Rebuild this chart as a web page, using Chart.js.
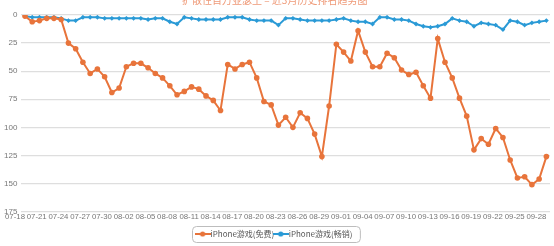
<!DOCTYPE html>
<html>
<head>
<meta charset="utf-8">
<script src="https://cdn.jsdelivr.net/npm/chart.js@4.4.1/dist/chart.umd.min.js"></script>
<style>
  html, body { margin: 0; padding: 0; background: #fff; overflow: hidden; }
  #wrap { position: relative; width: 554px; height: 246px; }
  #titulo {
    position: absolute; top: -6px; left: 182px; width: 180px;
    font: 10px "Noto Sans CJK SC", sans-serif; color: #ef9a78;
    white-space: nowrap; line-height: 12px;
  }
</style>
</head>
<body>
<div id="wrap">
  <canvas id="grafico" width="554" height="246"></canvas>
  <div id="titulo">扩散性百万亚瑟王 – 近3月历史排名趋势图</div>
</div>
<script>
// datas: 07-18 .. 09-28
const meses = [["07", 18, 31], ["08", 1, 31], ["09", 1, 28]];
const datas = [];
meses.forEach(([m, ini, fim]) => {
  for (let d = ini; d <= fim; d++) datas.push(m + "-" + String(d).padStart(2, "0"));
});

const nomeGratis = "iPhone游戏(免费)";
const nomeVendas = "iPhone游戏(畅销)";

const rankGratis = [
  1, 6, 5, 3, 3, 4, 25, 30, 42, 52, 48, 55, 69, 65, 46, 43, 43, 47, 52, 56,
  63, 71, 68, 64, 66, 72, 76, 85, 44, 48, 44, 42, 56, 77, 80, 98, 91, 100, 87, 92,
  106, 126, 81, 26, 33, 41, 14, 33, 46, 46, 34, 38, 49, 53, 51, 63, 74, 21, 42, 56,
  74, 90, 120, 110, 115, 101, 109, 129, 145, 144, 151, 146, 126
];
const rankVendas = [
  1, 2, 2, 2, 2, 3, 5, 5, 2, 2, 2, 3, 3, 3, 3, 3, 3, 4, 3, 3,
  6, 8, 2, 3, 4, 4, 4, 4, 2, 2, 2, 4, 5, 5, 5, 9, 3, 3, 4, 5,
  5, 5, 5, 4, 3, 5, 6, 6, 8, 2, 2, 4, 4, 5, 8, 10, 11, 10, 8, 3,
  5, 6, 10, 7, 8, 9, 13, 5, 6, 9, 7, 6, 5
];
const ticksY = [0, 25, 50, 75, 100, 125, 150, 175];

const laranja = "#e8743b";
const azul = "#2a9ad6";

function iconeLegenda(cor) {
  const c = document.createElement("canvas");
  c.width = 16; c.height = 8;
  const g = c.getContext("2d");
  g.strokeStyle = cor; g.lineWidth = 2;
  g.beginPath(); g.moveTo(0, 4); g.lineTo(16, 4); g.stroke();
  g.fillStyle = cor;
  g.beginPath(); g.arc(8, 4, 2.6, 0, Math.PI * 2); g.fill();
  return c;
}

// moldura arredondada em volta da legenda
const bordaLegenda = {
  id: "bordaLegenda",
  afterDraw(chart) {
    const caixas = chart.legend.legendHitBoxes;
    if (!caixas || !caixas.length) return;
    const esq = Math.min(...caixas.map((b) => b.left)) - 7;
    const dir = Math.max(...caixas.map((b) => b.left + b.width)) + 7;
    const topo = Math.min(...caixas.map((b) => b.top)) - 4;
    const base = Math.max(...caixas.map((b) => b.top + b.height)) + 4;
    const ctx = chart.ctx;
    ctx.save();
    ctx.strokeStyle = "#bdbdbd";
    ctx.lineWidth = 1;
    ctx.beginPath();
    ctx.roundRect(Math.round(esq) + 0.5, Math.round(topo) + 0.5, dir - esq, base - topo, 4);
    ctx.stroke();
    ctx.restore();
  }
};

const ctx = document.getElementById("grafico");
new Chart(ctx, {
  type: "line",
  data: {
    labels: datas,
    datasets: [
      {
        label: nomeGratis,
        data: rankGratis,
        borderColor: laranja,
        backgroundColor: laranja,
        borderWidth: 2,
        pointRadius: 2.8,
        pointBorderWidth: 0,
        pointStyle: "circle",
        tension: 0,
      },
      {
        label: nomeVendas,
        data: rankVendas,
        borderColor: azul,
        backgroundColor: azul,
        borderWidth: 2,
        pointRadius: 2.4,
        pointBorderWidth: 0,
        pointStyle: "rectRot",
        tension: 0,
      },
    ],
  },
  options: {
    responsive: false,
    animation: false,
    layout: { padding: { left: 0, right: 3, top: 15, bottom: -2 } },
    plugins: {
      title: { display: false },
      tooltip: { enabled: false },
      legend: {
        position: "bottom",
        labels: {
          font: { size: 8, family: "'Noto Sans CJK SC', sans-serif" },
          color: "#555",
          padding: 2.5,
          boxHeight: 8,
          usePointStyle: true,
          generateLabels(chart) {
            return chart.data.datasets.map((ds, i) => ({
              text: ds.label,
              pointStyle: iconeLegenda(ds.borderColor),
              fillStyle: ds.borderColor,
              strokeStyle: ds.borderColor,
              lineWidth: 0,
              fontColor: "#555",
              datasetIndex: i,
              hidden: false,
            }));
          },
        },
      },
    },
    scales: {
      x: {
        offset: true,
        afterFit(axis) {
          axis.height += 4.5;
        },
        grid: { display: false, drawTicks: false },
        border: { display: false },
        ticks: {
          autoSkip: false,
          maxRotation: 0,
          minRotation: 0,
          align: "end",
          padding: 1,
          color: "#777",
          font: { size: 7.8, family: "'Liberation Sans', sans-serif" },
          callback: function (v, i) {
            return i % 3 === 0 ? datas[i] : "";
          },
        },
      },
      y: {
        reverse: true,
        min: 0,
        max: 175,
        afterBuildTicks(axis) {
          axis.ticks = ticksY.map((v) => ({ value: v }));
        },
        grid: { color: "#dedede", drawTicks: false, lineWidth: 1.2 },
        border: { display: false },
        ticks: {
          padding: 4,
          color: "#777",
          font: { size: 8, family: "'Liberation Sans', sans-serif" },
        },
      },
    },
  },
  plugins: [bordaLegenda],
});
</script>
</body>
</html>
